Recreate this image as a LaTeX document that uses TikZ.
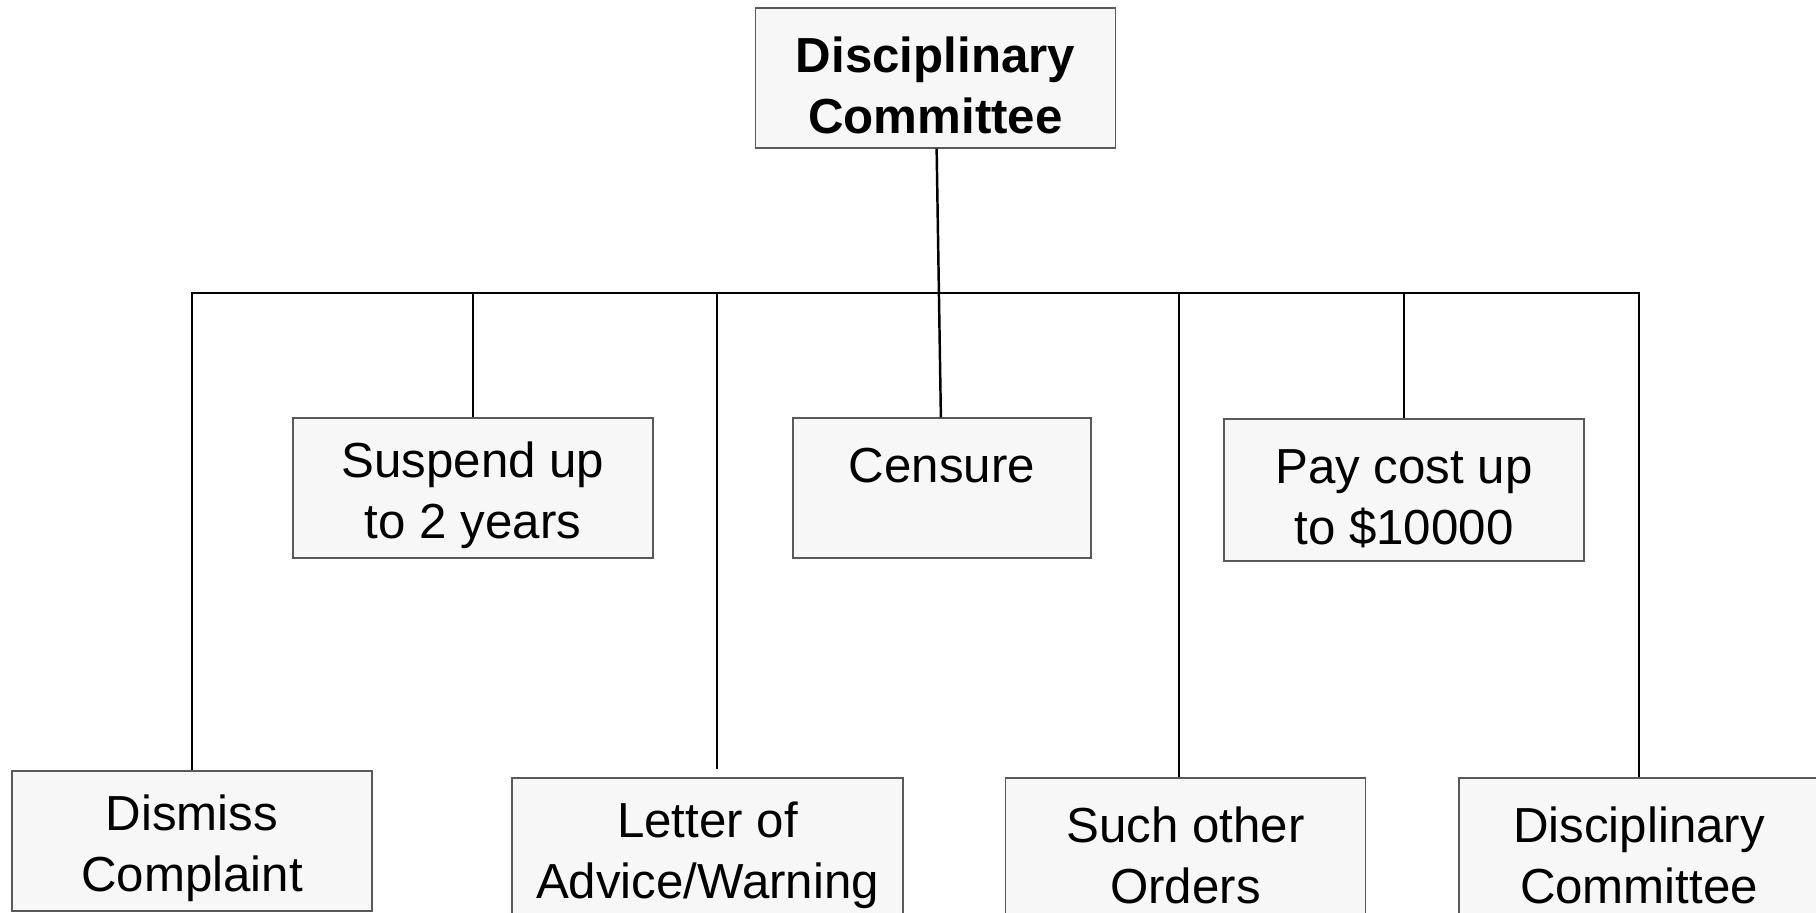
\documentclass[tikz,border=0pt]{standalone}
\usepackage{fontspec}
\setmainfont{Liberation Sans}
\usepackage{tikz}

\newcommand{\topgap}{\rule{0pt}{14.5pt}}

\begin{document}
\begin{tikzpicture}[x=0.01cm,y=-0.01cm,
    box/.style={draw=black!65, fill=black!3, line width=0.4pt, minimum width=3.6cm,
      minimum height=1.4cm, inner sep=0pt, align=center, font=\fontsize{14}{17.4}\selectfont},
    link/.style={line width=0.7pt}]
      \path[use as bounding box, clip] (0,0) rectangle (1816,913);

      \node [box,font=\fontsize{14}{17.4}\selectfont\bfseries] (top) at (935.5,78) {\topgap Disciplinary\\Committee};
      \node [box] (susp) at (473,488) {\topgap Suspend up\\to 2 years};
      \node [box,minimum width=2.98cm] (cens) at (942,488) {\topgap Censure\\\mbox{}};
      \node [box,minimum height=1.42cm] (pay) at (1404,490) {\topgap Pay cost up\\to \$10000};
      \node [box] (dism) at (192,841) {\topgap Dismiss\\Complaint};
      \node [box,minimum width=3.91cm] (lett) at (707.5,848) {\topgap Letter of\\Advice/Warning};
      \node [box] (such) at (1185.5,848) {\topgap Such other\\Orders};
      \node [box] (disc) at (1639,848) {\topgap Disciplinary\\Committee};

      \coordinate (bus) at (0,293);
      \coordinate (lettin) at ([shift={(9.5,-8)}]lett.north);
      \coordinate (suchin) at ([shift={(-6.5,0)}]such.north);

      \draw[link] (top) -- (cens);
      \draw[link] (dism.north) |- (bus -| disc.north) -- (disc.north);
      \draw[link] (susp.north) -- (susp.north |- bus);
      \draw[link] (lettin) -- (lettin |- bus);
      \draw[link] (suchin) -- (suchin |- bus);
      \draw[link] (pay.north) -- (pay.north |- bus);
    \end{tikzpicture}
\end{document}
